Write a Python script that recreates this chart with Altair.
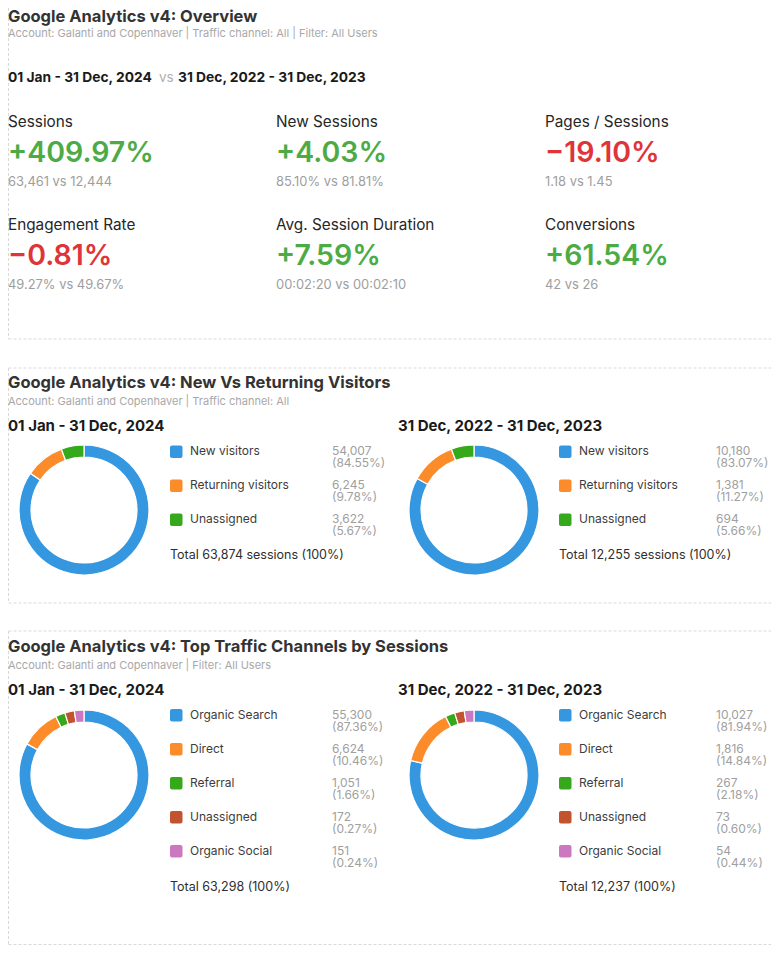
import altair as alt
import pandas as pd

# ---------------- data ----------------
overview_title = "Google Analytics v4: Overview"
overview_sub = "Account: Galanti and Copenhaver | Traffic channel: All | Filter: All Users"
period_current = "01 Jan - 31 Dec, 2024"
period_prior = "31 Dec, 2022 - 31 Dec, 2023"

kpi_labels = ["Sessions", "New Sessions", "Pages / Sessions",
              "Engagement Rate", "Avg. Session Duration", "Conversions"]
kpi_change = [409.97, 4.03, -19.10, -0.81, 7.59, 61.54]
kpi_current = ["63,461", "85.10%", "1.18", "49.27%", "00:02:20", "42"]
kpi_prior = ["12,444", "81.81%", "1.45", "49.67%", "00:02:10", "26"]

visitors_title = "Google Analytics v4: New Vs Returning Visitors"
visitors_sub = "Account: Galanti and Copenhaver | Traffic channel: All"
visitor_types = ["New visitors", "Returning visitors", "Unassigned"]
visitors_2024 = [54007, 6245, 3622]
visitors_2023 = [10180, 1381, 694]

channels_title = "Google Analytics v4: Top Traffic Channels by Sessions"
channels_sub = "Account: Galanti and Copenhaver | Filter: All Users"
channels = ["Organic Search", "Direct", "Referral", "Unassigned", "Organic Social"]
channels_2024 = [55300, 6624, 1051, 172, 151]
channels_2023 = [10027, 1816, 267, 73, 54]

# ---------------- style ----------------
visitor_colors = ["#3497df", "#fc8b2a", "#35a81b"]
channel_colors = ["#3497df", "#fc8b2a", "#35a81b", "#c3532f", "#cb78c1"]
GREEN = "#4dab45"
RED = "#df3439"
FONT = "Inter"
OX, OY = 6, 8          # page -> chart offset
W, H = 763, 938

def cx(v):
    return v - OX

def cy(v):
    return v - OY


def text_layer(rows, size, color=None, weight="normal", font=FONT, color_field=None,
               line_height=None):
    df = pd.DataFrame(rows)
    enc = dict(
        x=alt.X("x:Q", scale=None, axis=None),
        y=alt.Y("y:Q", scale=None, axis=None),
        text="t:N",
    )
    mk = dict(align="left", baseline="alphabetic", fontSize=size,
              fontWeight=weight, font=font)
    if line_height:
        mk["lineBreak"] = "\n"
        mk["lineHeight"] = line_height
    if color_field:
        enc["color"] = alt.Color(f"{color_field}:N", scale=None)
    else:
        mk["color"] = color
    return alt.Chart(df).mark_text(**mk).encode(**enc)


layers = []

# panel borders (dashed)
L = 0.5
border_rows = [
    # panel 1: left + bottom
    (L, L, 0, cy(339)), (L, W + 5, cy(339), cy(339)),
    # panel 2
    (L, W + 5, cy(368), cy(368)), (L, L, cy(368), cy(603)), (L, W + 5, cy(603), cy(603)),
    # panel 3
    (L, W + 5, cy(631), cy(631)), (L, L, cy(631), H - 1.5), (L, W + 5, H - 1.5, H - 1.5),
]
borders = pd.DataFrame(border_rows, columns=["x", "x2", "y", "y2"])
layers.append(
    alt.Chart(borders).mark_rule(stroke="#d9d9d9", strokeWidth=1, strokeDash=[3, 2]).encode(
        x=alt.X("x:Q", scale=None, axis=None), x2="x2:Q",
        y=alt.Y("y:Q", scale=None, axis=None), y2="y2:Q")
)

# titles + subtitles
layers.append(text_layer([
    {"x": cx(6), "y": 14, "t": overview_title},
    {"x": cx(6), "y": cy(388), "t": visitors_title},
    {"x": cx(6), "y": cy(652), "t": channels_title},
], 16.5, "#333333", "bold"))
layers.append(text_layer([
    {"x": cx(6), "y": cy(36.5), "t": overview_sub},
    {"x": cx(6), "y": cy(405), "t": visitors_sub},
    {"x": cx(6), "y": cy(668.5), "t": channels_sub},
], 11, "#a8a8a8"))

# overview date comparison
layers.append(text_layer([
    {"x": cx(6), "y": cy(82), "t": period_current},
    {"x": cx(176), "y": cy(82), "t": period_prior},
], 13.8, "#1a1a1a", "bold"))
layers.append(text_layer([{"x": cx(157), "y": cy(82), "t": "vs"}], 13.5, "#b0b0b0"))

# KPIs
col_x = [6, 274, 543]
row_y = [127, 230]
kl, kv, ks = [], [], []
for i, lab in enumerate(kpi_labels):
    x = cx(col_x[i % 3])
    yb = row_y[i // 3]
    ch = kpi_change[i]
    sign = "+" if ch >= 0 else "\u2212"
    kl.append({"x": x, "y": cy(yb), "t": lab})
    kv.append({"x": x, "y": cy(yb + 35), "t": f"{sign}{abs(ch):.2f}%",
               "c": GREEN if ch >= 0 else RED})
    ks.append({"x": x, "y": cy(yb + 59), "t": f"{kpi_current[i]} vs {kpi_prior[i]}"})
layers.append(text_layer(kl, 15.3, "#262626"))
layers.append(text_layer(kv, 28.5, weight=600, color_field="c"))
layers.append(text_layer(ks, 12.9, "#9e9e9e"))

# period headers in panels
layers.append(text_layer([
    {"x": cx(6), "y": cy(431), "t": period_current},
    {"x": cx(396), "y": cy(431), "t": period_prior},
    {"x": cx(6), "y": cy(695), "t": period_current},
    {"x": cx(396), "y": cy(695), "t": period_prior},
], 15, "#1a1a1a", "bold"))


def donut(cats, vals, colors, center_x, center_y):
    df = pd.DataFrame({"cat": cats, "value": vals, "idx": range(len(cats)),
                       "col": colors})
    return alt.Chart(df).transform_joinaggregate(
        total="sum(value)"
    ).transform_calculate(
        disp="max(datum.value, datum.total * 0.025)"
    ).transform_joinaggregate(
        dtotal="sum(disp)"
    ).transform_calculate(
        frac="datum.disp / datum.dtotal"
    ).mark_arc(radius=65, radius2=53, stroke="#ffffff", strokeWidth=1.2).encode(
        theta=alt.Theta("frac:Q", stack=True, scale=alt.Scale(domain=[0, 1])),
        order=alt.Order("idx:Q"),
        color=alt.Color("col:N", scale=None),
        x=alt.value(cx(center_x)),
        y=alt.value(cy(center_y)),
    )


def legend(cats, vals, colors, x0, base0, total_label, val_dx):
    tot = sum(vals)
    sq, lab, vv = [], [], []
    for i, (c, v) in enumerate(zip(cats, vals)):
        b = base0 + 34 * i
        sq.append({"x": cx(x0), "x2": cx(x0 + 12.5), "y": cy(b - 9.5), "y2": cy(b + 3),
                   "col": colors[i]})
        lab.append({"x": cx(x0 + 20), "y": cy(b), "t": c})
        vv.append({"x": cx(x0 + val_dx), "y": cy(b),
                   "t": f"{v:,}\n({v / tot * 100:.2f}%)"})
    out = [
        alt.Chart(pd.DataFrame(sq)).mark_rect(cornerRadius=2).encode(
            x=alt.X("x:Q", scale=None, axis=None), x2="x2:Q",
            y=alt.Y("y:Q", scale=None, axis=None), y2="y2:Q",
            color=alt.Color("col:N", scale=None)),
        text_layer(lab, 12, "#3c3c3c"),
        text_layer(vv, 12, "#a0a0a0", line_height=12.3),
        text_layer([{"x": cx(x0), "y": cy(base0 + 34 * len(cats) + 2),
                     "t": total_label.format(f"{tot:,}")}], 12.5, "#2e2e2e"),
    ]
    return out


layers.append(donut(visitor_types, visitors_2024, visitor_colors, 82, 510))
layers.append(donut(visitor_types, visitors_2023, visitor_colors, 472, 510))
layers.append(donut(channels, channels_2024, channel_colors, 82, 775))
layers.append(donut(channels, channels_2023, channel_colors, 472, 775))

layers += legend(visitor_types, visitors_2024, visitor_colors, 168, 455, "Total {} sessions (100%)", 162)
layers += legend(visitor_types, visitors_2023, visitor_colors, 557, 455, "Total {} sessions (100%)", 157)
layers += legend(channels, channels_2024, channel_colors, 168, 718.5, "Total {} (100%)", 162)
layers += legend(channels, channels_2023, channel_colors, 557, 718.5, "Total {} (100%)", 157)

chart = alt.layer(*layers).properties(
    width=W, height=H, padding=0, autosize="none", background="white"
).configure_view(stroke=None)

chart.save("out.html", embed_options={"renderer": "svg", "actions": False})
